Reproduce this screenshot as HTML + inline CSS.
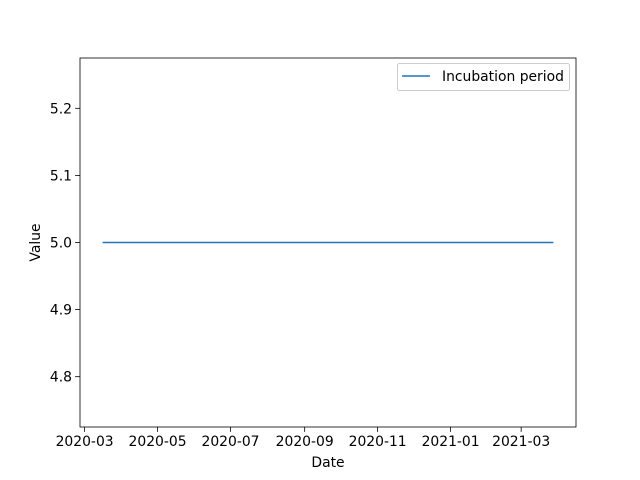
<!DOCTYPE html>
<html><head><meta charset="utf-8"><style>
body{margin:0;background:#fff}
svg{display:block;font-family:"DejaVu Sans","Liberation Sans",sans-serif}
</style></head><body>
<svg id="chart" width="640" height="480">
<rect width="640" height="480" fill="#fff"/>
<g id="plot"></g>
</svg>
<script>
const dates = ["2020-03-16","2021-03-28"];
const values = [5.0, 5.0];
const xTickLabels = ["2020-03","2020-05","2020-07","2020-09","2020-11","2021-01","2021-03"];
const yTickValues = [4.8, 4.9, 5.0, 5.1, 5.2];
const seriesName = "Incubation period";

const L=80,R=576,T=58,B=427,FS=13.9;
const ns="http://www.w3.org/2000/svg";
const g=document.getElementById('plot');
function mk(tag,attrs,parent){const e=document.createElementNS(ns,tag);for(const k in attrs)e.setAttribute(k,attrs[k]);(parent||g).appendChild(e);return e;}
const t=dates.map(d=>Date.parse(d+"T00:00:00Z"));
const tmin=Math.min(...t),tmax=Math.max(...t),pad=(tmax-tmin)*0.05;
const x0=tmin-pad,x1=tmax+pad;
const vmin=Math.min(...values),vmax=Math.max(...values);
let y0,y1;
if(vmax-vmin<1e-12){y0=vmin-0.275;y1=vmax+0.275;}
else{const p=(vmax-vmin)*0.05;y0=vmin-p;y1=vmax+p;}
const X=v=>L+(v-x0)/(x1-x0)*(R-L);
const Y=v=>B-(v-y0)/(y1-y0)*(B-T);

const pts=t.map((tv,i)=>X(tv).toFixed(2)+","+Y(values[i]).toFixed(2)).join(" ");
let e=mk('polyline',{points:pts,fill:'none',stroke:'#1f77b4','stroke-width':1.5});



e=mk('rect',{x:L,y:T,width:R-L,height:B-T,fill:'none',stroke:'#000','stroke-width':0.8});



xTickLabels.forEach(lbl=>{
  const xv=X(Date.parse(lbl+"-01T00:00:00Z"));
  let l=mk('line',{x1:xv,x2:xv,y1:B,y2:B+4.9,stroke:'#000','stroke-width':0.8});
  
  
  let tx=mk('text',{x:xv,y:B+19,'font-size':FS,'text-anchor':'middle',fill:'#000'});
  tx.textContent=lbl;
  
  
});
yTickValues.forEach(v=>{
  const yv=Y(v);
  let l=mk('line',{x1:L-4.9,x2:L,y1:yv,y2:yv,stroke:'#000','stroke-width':0.8});
  
  
  let tx=mk('text',{x:L-8,y:yv+5,'font-size':FS,'text-anchor':'end',fill:'#000'});
  tx.textContent=v.toFixed(1);
  
  
});
e=mk('text',{x:(L+R)/2,y:467,'font-size':FS,'text-anchor':'middle'});
e.textContent="Date";


e=mk('text',{x:0,y:0,'font-size':FS,'text-anchor':'middle',transform:`translate(40,${(T+B)/2}) rotate(-90)`});
e.textContent="Value";


const lg=mk('g',{});


e=mk('rect',{x:397.5,y:63.5,width:172,height:27,rx:2,fill:'#fff','fill-opacity':0.8,stroke:'#ccc','stroke-width':1},lg);


e=mk('line',{x1:402,x2:430,y1:76,y2:76,stroke:'#1f77b4','stroke-width':1.5},lg);


e=mk('text',{x:442,y:81,'font-size':FS},lg);
e.textContent=seriesName;


</script>
</body></html>
